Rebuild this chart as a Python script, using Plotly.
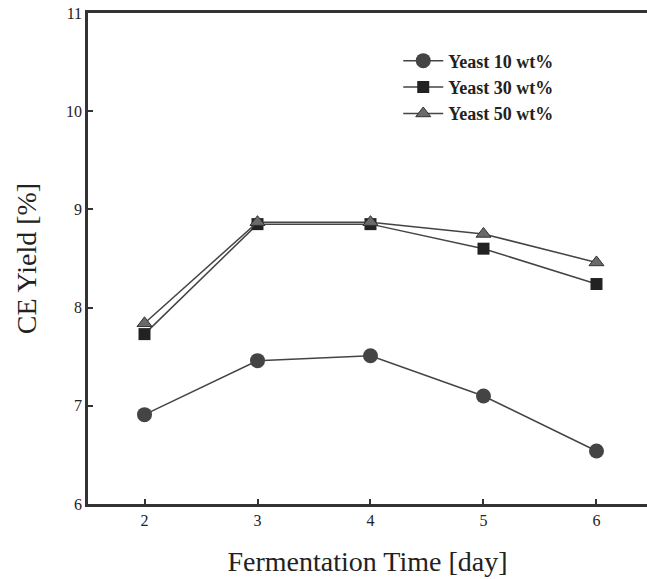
import plotly.graph_objects as go

days = [2, 3, 4, 5, 6]
yeast10 = [6.91, 7.46, 7.51, 7.10, 6.54]
yeast30 = [7.73, 8.85, 8.85, 8.60, 8.24]
yeast50 = [7.84, 8.87, 8.87, 8.75, 8.46]
names = ["Yeast 10 wt%", "Yeast 30 wt%", "Yeast 50 wt%"]
x_ticks = [2, 3, 4, 5, 6]
y_ticks = [6, 7, 8, 9, 10, 11]

fig = go.Figure()
fig.add_trace(go.Scatter(x=days, y=yeast10, name=names[0], mode="lines+markers",
                         line=dict(color="#444444", width=1.5),
                         marker=dict(symbol="circle", size=15, color="#444444")))
fig.add_trace(go.Scatter(x=days, y=yeast30, name=names[1], mode="lines+markers",
                         line=dict(color="#444444", width=1.5),
                         marker=dict(symbol="square", size=12, color="#222222")))
fig.add_trace(go.Scatter(x=days, y=yeast50, name=names[2], mode="lines+markers",
                         line=dict(color="#444444", width=1.5),
                         marker=dict(symbol="triangle-up", size=13, color="#6a6a6a",
                                     line=dict(color="#333333", width=1))))

fig.update_layout(
    width=647, height=579,
    margin=dict(l=88, r=0, t=13, b=75),
    plot_bgcolor="white", paper_bgcolor="white",
    font=dict(family="Liberation Serif", color="#222222"),
    legend=dict(x=0.555, y=0.94, xanchor="left", yanchor="top",
                font=dict(family="Liberation Serif", size=18, color="#222222", weight="bold"),
                bgcolor="rgba(0,0,0,0)", itemwidth=40, tracegroupgap=0),
    xaxis=dict(range=[1.5, 6.447], tickvals=x_ticks, ticks="inside", ticklen=5,
               tickwidth=1.5, tickcolor="#333333",
               showline=True, linecolor="#333333", linewidth=2.5, mirror=True,
               showgrid=False, zeroline=False,
               tickfont=dict(size=16, family="Liberation Serif", color="#222222"),
               title=dict(text="Fermentation Time [day]", standoff=24,
                          font=dict(size=28, family="Liberation Serif", color="#222222"))),
    yaxis=dict(range=[6, 11], tickvals=y_ticks, ticks="inside", ticklen=5,
               tickwidth=1.5, tickcolor="#333333",
               showline=True, linecolor="#333333", linewidth=2.5,
               showgrid=False, zeroline=False,
               tickfont=dict(size=16, family="Liberation Serif", color="#222222"),
               title=dict(text="CE Yield [%]", standoff=22,
                          font=dict(size=28, family="Liberation Serif", color="#222222"))),
)

fig.write_html("out.html")
